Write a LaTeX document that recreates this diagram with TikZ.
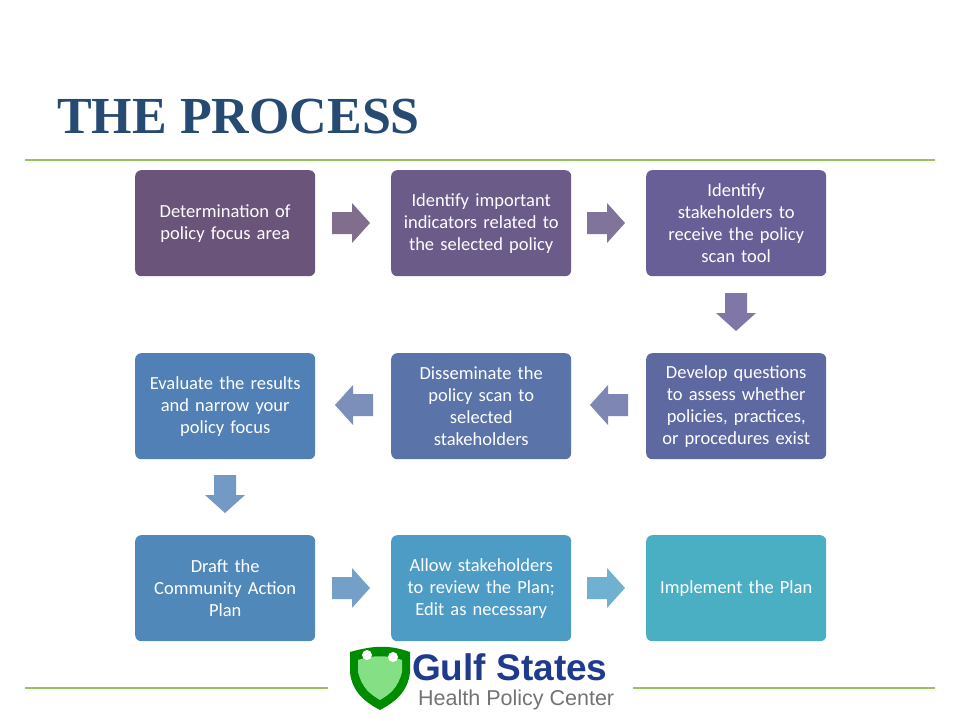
\documentclass[tikz,border=0pt]{standalone}
\usepackage{fontspec}
\setmainfont{Carlito}
\newfontfamily\titlefont{Liberation Serif}
\newfontfamily\logofont{Liberation Sans}
\definecolor{ca}{HTML}{6B5479}
\definecolor{cb}{HTML}{6A5B89}
\definecolor{cc}{HTML}{695F97}
\definecolor{cd}{HTML}{5E69A1}
\definecolor{ce}{HTML}{5A73A9}
\definecolor{cf}{HTML}{5080B6}
\definecolor{cg}{HTML}{5188BA}
\definecolor{ch}{HTML}{4C9CC6}
\definecolor{ci}{HTML}{4BAFC4}
\definecolor{gline}{HTML}{95C45A}
\definecolor{ttl}{HTML}{274A72}
\begin{document}
\begin{tikzpicture}[x=1pt,y=-1pt,
 bx/.style={draw=none,rounded corners=6pt,minimum width=180pt,minimum height=106pt,text width=178pt,align=center,text=white,font=\fontsize{18.5}{22}\selectfont,anchor=north west,inner sep=0pt},
 pics/blk/.style={code={\fill (-19,-11) -- (1,-11) -- (1,-20) -- (19,0) -- (1,20) -- (1,11) -- (-19,11) -- cycle;}}]
\useasboundingbox (0,0) rectangle (960,720);
\fill[white] (0,0) rectangle (960,720);
\node[anchor=base west,text=ttl,font=\titlefont\bfseries\fontsize{52}{56}\selectfont,inner sep=0pt] (title) at (57,133) {THE PROCESS};
\draw[gline,line width=2pt] (25,160) -- (935,160);
\draw[gline,line width=2pt] (25,688) -- (328,688);
\draw[gline,line width=2pt] (633,688) -- (935,688);
\node[bx,fill=ca] (b1) at (135,170) {Determination of\\policy focus area};
\node[bx,fill=cb] (b2) at (391,170) {Identify important\\indicators related to\\the selected policy};
\node[bx,fill=cc] (b3) at (646,170) {Identify\\stakeholders to\\receive the policy\\scan tool};
\node[bx,fill=cd] (b4) at (646,353) {Develop questions\\to assess whether\\policies, practices,\\or procedures exist};
\node[bx,fill=ce] (b5) at (391,353) {Disseminate the\\policy scan to\\selected\\stakeholders};
\node[bx,fill=cf] (b6) at (135,353) {Evaluate the results\\and narrow your\\policy focus\\[0.3em]};
\node[bx,fill=cg] (b7) at (135,535) {Draft the\\Community Action\\Plan};
\node[bx,fill=ch] (b8) at (391,535) {Allow stakeholders\\to review the Plan;\\Edit as necessary};
\node[bx,fill=ci] (b9) at (646,535) {Implement the Plan};
\pic[fill=ca!85!white] (a1) at (351,223) {blk};
\pic[fill=cb!85!white] (a2) at (606,223) {blk};
\pic[fill=cc!85!white,rotate=-90] (a3) at (736,312) {blk};
\pic[fill=cd!80!white,rotate=180] (a4) at (609,405) {blk};
\pic[fill=ce!80!white,rotate=180] (a5) at (354,405) {blk};
\pic[fill=cf!80!white,rotate=-90] (a6) at (225,494) {blk};
\pic[fill=cg!80!white] (a7) at (351,588) {blk};
\pic[fill=ch!80!white] (a8) at (606,588) {blk};
% logo
\fill[green!55!black] (350,652) .. controls (375,645) and (390,645) .. (410,652) -- (410,672) .. controls (408,692) and (395,702) .. (380,710) .. controls (365,702) and (352,692) .. (350,672) -- cycle;
\fill[green!60!gray!60!white] (358,660) .. controls (372,655) and (388,655) .. (402,660) -- (402,672) .. controls (398,688) and (390,694) .. (380,700) .. controls (370,694) and (362,688) .. (358,672) -- cycle;
\fill[white] (367,655) circle (5); \fill[white] (393,657) circle (5);
\node[anchor=base west,inner sep=0pt,text=ttl!80!blue,font=\logofont\bfseries\fontsize{37}{40}\selectfont] (lg1) at (412,680) {Gulf States};
\node[anchor=base west,inner sep=0pt,text=gray!90!black,font=\logofont\fontsize{21.5}{23}\selectfont] (lg2) at (418,705) {Health Policy Center};
\end{tikzpicture}
\end{document}
